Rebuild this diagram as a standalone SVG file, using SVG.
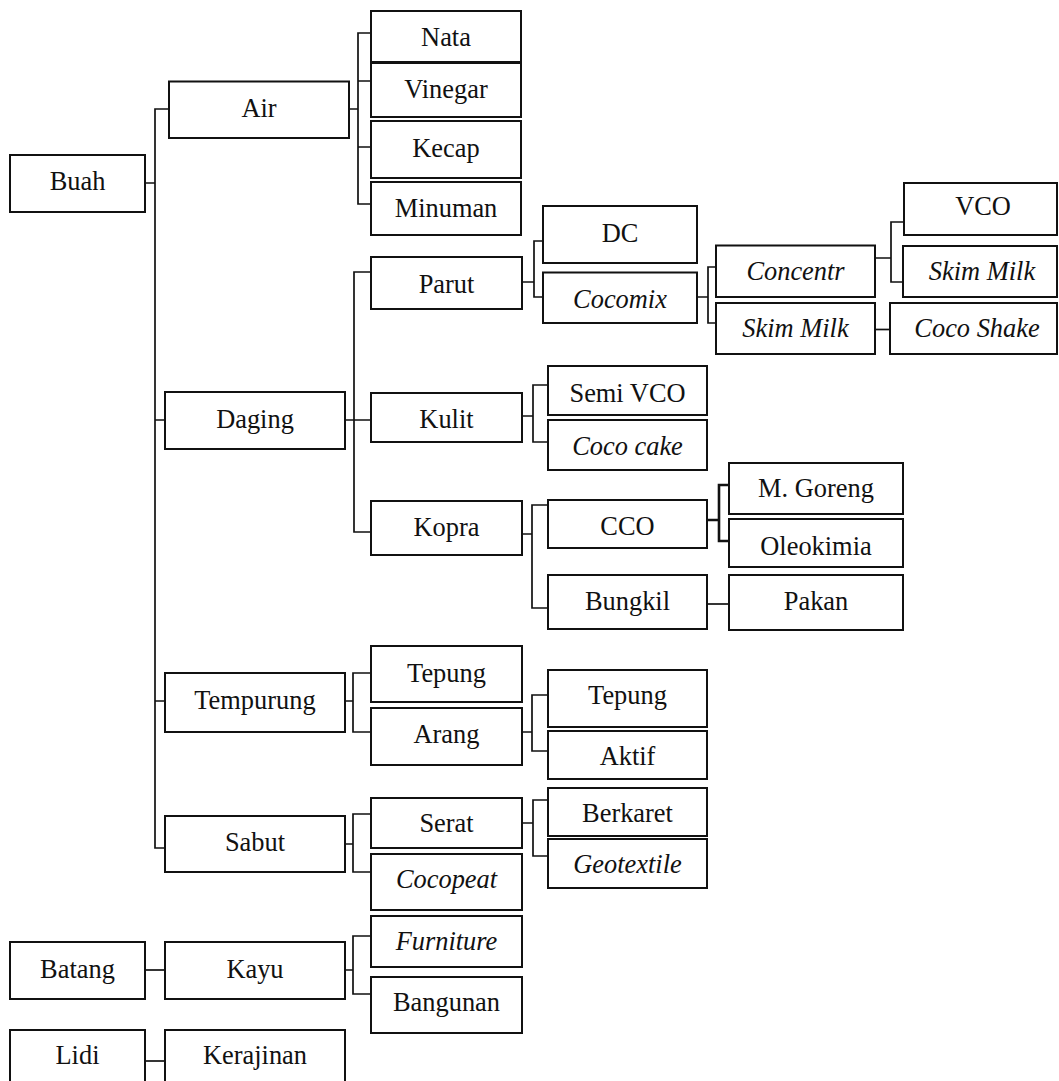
<svg xmlns="http://www.w3.org/2000/svg" width="1059" height="1081" viewBox="0 0 1059 1081">
  <style>
    .box rect { fill: #ffffff; stroke: #111111; stroke-width: 2; }
    .box text { font-family: "Liberation Serif", "Times New Roman", serif; font-size: 26.4px; fill: #111111; text-anchor: middle; }
    .box text.it { font-style: italic; }
    .wire { fill: none; stroke: #111111; stroke-width: 1.7; stroke-linecap: square; }
    .wire.bold { stroke-width: 2.6; }
  </style>
  <rect x="0" y="0" width="1059" height="1081" fill="#ffffff"/>

  <!-- connectors -->
  <g id="connectors">
    <!-- Buah trunk -->
    <path class="wire" d="M145 183H155 M169 109H155V848H165 M155 420H165 M155 701H165"/>
    <!-- Air -->
    <path class="wire" d="M349 109H358 M371 33H358V204H371 M358 81H371 M358 147H371"/>
    <!-- Daging -->
    <path class="wire" d="M345 420H354 M371 272H354V532H371 M354 420H371"/>
    <!-- Parut -->
    <path class="wire" d="M522 282H534 M543 241H534V297H543"/>
    <!-- Cocomix -->
    <path class="wire" d="M697 297H708 M716 267H708V323H716"/>
    <!-- Concentr -->
    <path class="wire" d="M875 258H891 M904 222H891V282H903"/>
    <!-- Skim Milk to Coco Shake -->
    <path class="wire" d="M875 329.5H890"/>
    <!-- Kulit -->
    <path class="wire" d="M522 416H533 M548 385H533V442H548"/>
    <!-- Kopra -->
    <path class="wire" d="M522 534H532 M548 505H532V608H548"/>
    <!-- CCO -->
    <path class="wire bold" d="M707 520H719 M729 485H719V541H729"/>
    <!-- Bungkil to Pakan -->
    <path class="wire" d="M707 604H729"/>
    <!-- Tempurung -->
    <path class="wire" d="M345 701H353 M371 673H353V732H371"/>
    <!-- Arang -->
    <path class="wire" d="M522 732H532 M548 695H532V751H548"/>
    <!-- Sabut -->
    <path class="wire" d="M345 844H353 M371 814H353V872H371"/>
    <!-- Serat -->
    <path class="wire" d="M522 823H533 M548 800H533V856H548"/>
    <!-- Batang to Kayu -->
    <path class="wire" d="M145 970H165"/>
    <!-- Kayu -->
    <path class="wire" d="M345 970H353 M371 936H353V994H371"/>
    <!-- Lidi to Kerajinan -->
    <path class="wire" d="M145 1061H165"/>
  </g>

  <!-- level 0 -->
  <g id="buah" class="box"><rect x="10" y="155" width="135" height="57"/><text x="77.5" y="190">Buah</text></g>
  <g id="batang" class="box"><rect x="10" y="942" width="135" height="57"/><text x="77.5" y="977.5">Batang</text></g>
  <g id="lidi" class="box"><rect x="10" y="1030" width="135" height="70"/><text x="77.5" y="1064">Lidi</text></g>

  <!-- level 1 -->
  <g id="air" class="box"><rect x="169" y="81.5" width="180" height="56.5"/><text x="259" y="116.7">Air</text></g>
  <g id="daging" class="box"><rect x="165" y="392" width="180" height="57"/><text x="255" y="427.7">Daging</text></g>
  <g id="tempurung" class="box"><rect x="165" y="673" width="180" height="59"/><text x="255" y="709">Tempurung</text></g>
  <g id="sabut" class="box"><rect x="165" y="816" width="180" height="56"/><text x="255" y="850.7">Sabut</text></g>
  <g id="kayu" class="box"><rect x="165" y="942" width="180" height="57"/><text x="255" y="977.5">Kayu</text></g>
  <g id="kerajinan" class="box"><rect x="165" y="1030" width="180" height="70"/><text x="255" y="1064">Kerajinan</text></g>

  <!-- level 2 -->
  <g id="nata" class="box"><rect x="371" y="11" width="150" height="51"/><text x="446" y="45.7">Nata</text></g>
  <g id="vinegar" class="box"><rect x="371" y="63" width="150" height="54"/><text x="446" y="98.3">Vinegar</text></g>
  <g id="kecap" class="box"><rect x="371" y="121" width="150" height="57"/><text x="446" y="156.7">Kecap</text></g>
  <g id="minuman" class="box"><rect x="371" y="182" width="150" height="53"/><text x="446" y="216.7">Minuman</text></g>
  <g id="parut" class="box"><rect x="371" y="257" width="151" height="52"/><text x="446.5" y="292.7">Parut</text></g>
  <g id="kulit" class="box"><rect x="371" y="393" width="151" height="49"/><text x="446.5" y="428.3">Kulit</text></g>
  <g id="kopra" class="box"><rect x="371" y="501" width="151" height="54"/><text x="446.5" y="535.7">Kopra</text></g>
  <g id="tepung-tempurung" class="box"><rect x="371" y="646" width="151" height="56"/><text x="446.5" y="681.7">Tepung</text></g>
  <g id="arang" class="box"><rect x="371" y="708" width="151" height="57"/><text x="446.5" y="742.7">Arang</text></g>
  <g id="serat" class="box"><rect x="371" y="798" width="151" height="50"/><text x="446.5" y="832.3">Serat</text></g>
  <g id="cocopeat" class="box"><rect x="371" y="854" width="151" height="56"/><text class="it" x="446.5" y="888.3">Cocopeat</text></g>
  <g id="furniture" class="box"><rect x="371" y="916" width="151" height="51"/><text class="it" x="446.5" y="950">Furniture</text></g>
  <g id="bangunan" class="box"><rect x="371" y="977" width="151" height="56"/><text x="446.5" y="1011">Bangunan</text></g>

  <!-- level 3 -->
  <g id="dc" class="box"><rect x="543" y="206" width="154" height="57"/><text x="620" y="241.7">DC</text></g>
  <g id="cocomix" class="box"><rect x="543" y="272.5" width="154" height="50.5"/><text class="it" x="620" y="307.7">Cocomix</text></g>
  <g id="semi-vco" class="box"><rect x="548" y="366" width="159" height="49"/><text x="627.5" y="402.3">Semi VCO</text></g>
  <g id="coco-cake" class="box"><rect x="548" y="420" width="159" height="50"/><text class="it" x="627.5" y="455">Coco cake</text></g>
  <g id="cco" class="box"><rect x="548" y="500" width="159" height="48"/><text x="627.5" y="535">CCO</text></g>
  <g id="bungkil" class="box"><rect x="548" y="575" width="159" height="54"/><text x="627.5" y="610">Bungkil</text></g>
  <g id="tepung-arang" class="box"><rect x="548" y="670" width="159" height="57"/><text x="627.5" y="704">Tepung</text></g>
  <g id="aktif" class="box"><rect x="548" y="731" width="159" height="48"/><text x="627.5" y="765">Aktif</text></g>
  <g id="berkaret" class="box"><rect x="548" y="788" width="159" height="48"/><text x="627.5" y="821.7">Berkaret</text></g>
  <g id="geotextile" class="box"><rect x="548" y="839" width="159" height="49"/><text class="it" x="627.5" y="873.3">Geotextile</text></g>

  <!-- level 4 -->
  <g id="concentr" class="box"><rect x="716" y="245.5" width="159" height="51.5"/><text class="it" x="795.5" y="280">Concentr</text></g>
  <g id="skim-milk-cocomix" class="box"><rect x="716" y="303" width="159" height="51"/><text class="it" x="795.5" y="336.7">Skim Milk</text></g>
  <g id="m-goreng" class="box"><rect x="729" y="463" width="174" height="51"/><text x="816" y="496.7">M. Goreng</text></g>
  <g id="oleokimia" class="box"><rect x="729" y="519" width="174" height="48"/><text x="816" y="555">Oleokimia</text></g>
  <g id="pakan" class="box"><rect x="729" y="575" width="174" height="55"/><text x="816" y="610">Pakan</text></g>

  <!-- level 5 -->
  <g id="vco" class="box"><rect x="904" y="183" width="153" height="52"/><text x="983" y="215">VCO</text></g>
  <g id="skim-milk-concentr" class="box"><rect x="903" y="246" width="154" height="51"/><text class="it" x="982" y="280">Skim Milk</text></g>
  <g id="coco-shake" class="box"><rect x="890" y="303" width="167" height="51"/><text class="it" x="977" y="336.7">Coco Shake</text></g>
</svg>
